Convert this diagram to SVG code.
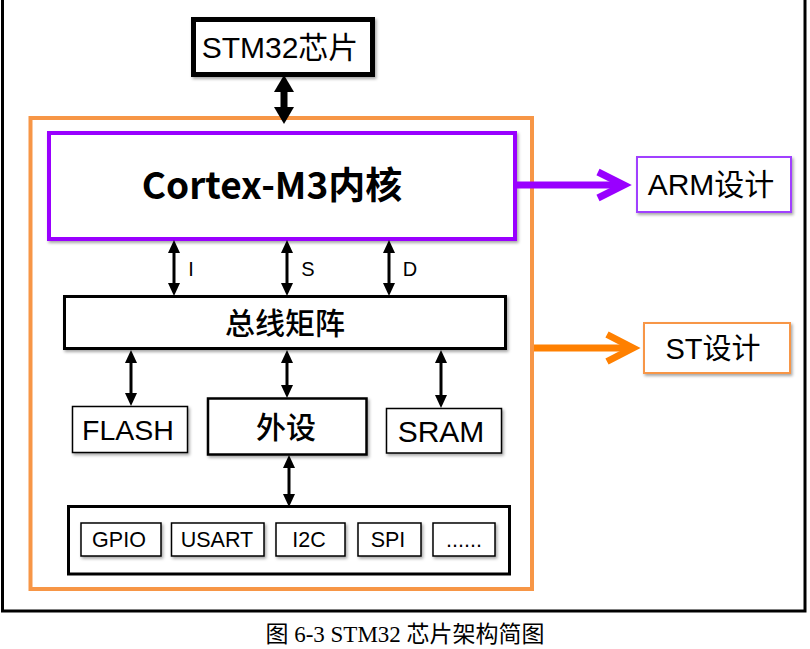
<svg xmlns="http://www.w3.org/2000/svg" width="810" height="649" viewBox="0 0 810 649">
<defs>
<style>
.box{fill:#fff;stroke:#000}
.lat{font-family:"Liberation Sans","Noto Sans CJK SC",sans-serif;fill:#000;text-anchor:middle}
.cjk{font-family:"Noto Sans CJK SC",sans-serif;fill:#000;text-anchor:middle}
.bi{stroke:#000;stroke-width:3;fill:none}
</style>
<filter id="sh" x="-10%" y="-10%" width="125%" height="130%">
<feDropShadow dx="1.5" dy="2" stdDeviation="1.5" flood-color="#000" flood-opacity="0.35"/>
</filter>
<marker id="hb" markerUnits="userSpaceOnUse" viewBox="0 0 17 20" refX="1" refY="10" markerWidth="17" markerHeight="20" orient="auto-start-reverse">
<path d="M0,0 L17,10 L0,20 z" fill="#000"/>
</marker>
<marker id="hs" markerUnits="userSpaceOnUse" viewBox="0 0 13 12" refX="1" refY="6" markerWidth="13" markerHeight="12" orient="auto-start-reverse">
<path d="M0,0 L13,6 L0,12 z" fill="#000"/>
</marker>
<marker id="cp" markerUnits="userSpaceOnUse" viewBox="0 0 46 40" refX="34" refY="20" markerWidth="46" markerHeight="40" orient="auto" overflow="visible">
<polyline points="8,7 34,20 8,33" fill="none" stroke="#9900FF" stroke-width="7" stroke-linejoin="miter"/>
</marker>
<marker id="co" markerUnits="userSpaceOnUse" viewBox="0 0 46 40" refX="34" refY="20" markerWidth="46" markerHeight="40" orient="auto" overflow="visible">
<polyline points="8,6.5 34,20 8,33.5" fill="none" stroke="#FF8000" stroke-width="7" stroke-linejoin="miter"/>
</marker>
</defs>
<rect width="810" height="649" fill="#fff"/>
<rect id="frame" x="2.5" y="-5" width="802.5" height="616" fill="none" stroke="#000" stroke-width="3"/>

<g id="stm32-chip">
<rect x="30.5" y="118" width="501.5" height="471" fill="none" stroke="#F79646" stroke-width="4"/>
</g>

<g id="stm32">
<rect class="box" x="193.5" y="19.5" width="179" height="55" stroke-width="5" filter="url(#sh)"/>
<text class="lat" x="280" y="57.5" font-size="30">STM32芯片</text>
</g>

<g id="cortex">
<rect x="49" y="133" width="466" height="106" fill="#fff" stroke="#9900FF" stroke-width="4" filter="url(#sh)"/>
<text class="cjk" x="272" y="199" font-size="37" font-weight="bold">Cortex-M3内核</text>
</g>

<g id="arm">
<rect x="637" y="157" width="154" height="55" fill="#fff" stroke="#A040FF" stroke-width="2" filter="url(#sh)"/>
<text class="lat" x="711" y="195" font-size="30">ARM设计</text>
</g>

<g id="st">
<rect x="644" y="323" width="146" height="50" fill="#fff" stroke="#F79646" stroke-width="2" filter="url(#sh)"/>
<text class="lat" x="713" y="358.5" font-size="29">ST设计</text>
</g>

<g id="busmatrix">
<rect class="box" x="64.5" y="296.5" width="441" height="52" stroke-width="3" filter="url(#sh)"/>
<text class="cjk" x="285" y="334" font-size="30" font-weight="500">总线矩阵</text>
</g>

<g id="flash">
<rect class="box" x="72.5" y="406.5" width="115" height="46" stroke-width="1.5" filter="url(#sh)"/>
<text class="lat" x="128" y="440" font-size="28.5">FLASH</text>
</g>

<g id="periph">
<rect class="box" x="208" y="398.5" width="158.5" height="56" stroke-width="2.5" filter="url(#sh)"/>
<text class="cjk" x="286" y="437.5" font-size="30" font-weight="500">外设</text>
</g>

<g id="sram">
<rect class="box" x="386.5" y="408.5" width="115" height="44.5" stroke-width="1.5" filter="url(#sh)"/>
<text class="lat" x="441" y="442" font-size="30">SRAM</text>
</g>

<g id="periph-list">
<rect class="box" x="68.5" y="506.5" width="441" height="67.5" stroke-width="3"/>
</g>
<g id="gpio">
<rect class="box" x="81" y="523" width="80" height="33" stroke-width="1.5" filter="url(#sh)"/>
<text class="lat" x="119" y="547" font-size="21.5">GPIO</text>
</g>
<g id="usart">
<rect class="box" x="171.5" y="523" width="92.5" height="33" stroke-width="1.5" filter="url(#sh)"/>
<text class="lat" x="217" y="547" font-size="21.5">USART</text>
</g>
<g id="i2c">
<rect class="box" x="276" y="523" width="69" height="33" stroke-width="1.5" filter="url(#sh)"/>
<text class="lat" x="309" y="547" font-size="21.5">I2C</text>
</g>
<g id="spi">
<rect class="box" x="358" y="523" width="63" height="33" stroke-width="1.5" filter="url(#sh)"/>
<text class="lat" x="388" y="547" font-size="21.5">SPI</text>
</g>
<g id="more">
<rect class="box" x="433" y="523" width="62" height="33" stroke-width="1.5" filter="url(#sh)"/>
<text class="lat" x="464" y="547" font-size="21.5">......</text>
</g>

<g id="connectors">
<line x1="284" y1="91" x2="284" y2="108" stroke="#000" stroke-width="7" marker-start="url(#hb)" marker-end="url(#hb)"/>
<line class="bi" x1="174" y1="252" x2="174" y2="284" marker-start="url(#hs)" marker-end="url(#hs)"/>
<line class="bi" x1="287" y1="252" x2="287" y2="284" marker-start="url(#hs)" marker-end="url(#hs)"/>
<line class="bi" x1="389" y1="252" x2="389" y2="284" marker-start="url(#hs)" marker-end="url(#hs)"/>
<line class="bi" x1="131" y1="362" x2="131" y2="394" marker-start="url(#hs)" marker-end="url(#hs)"/>
<line class="bi" x1="287" y1="362" x2="287" y2="386" marker-start="url(#hs)" marker-end="url(#hs)"/>
<line class="bi" x1="441" y1="362" x2="441" y2="396" marker-start="url(#hs)" marker-end="url(#hs)"/>
<line class="bi" x1="289" y1="467" x2="289" y2="495" marker-start="url(#hs)" marker-end="url(#hs)"/>
<line x1="517" y1="185" x2="624" y2="185" stroke="#9900FF" stroke-width="7" marker-end="url(#cp)"/>
<line x1="534" y1="348" x2="633" y2="348" stroke="#FF8000" stroke-width="7" marker-end="url(#co)"/>
<text class="lat" x="191" y="276" font-size="20">I</text>
<text class="lat" x="308" y="276" font-size="20">S</text>
<text class="lat" x="410" y="276" font-size="20">D</text>
</g>

<text id="caption" x="405" y="642" font-family="Liberation Serif,'Noto Sans CJK SC',serif" font-size="23" text-anchor="middle" fill="#000">图 6-3 STM32 芯片架构简图</text>
</svg>
